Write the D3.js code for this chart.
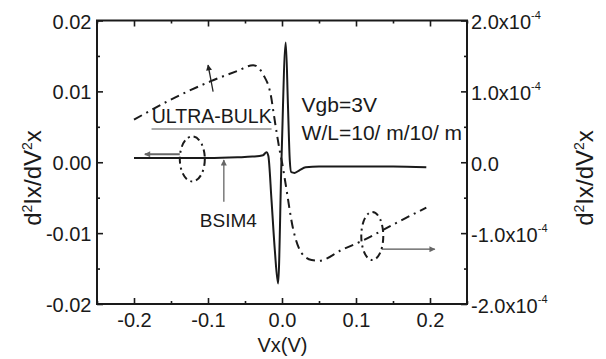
<!DOCTYPE html>
<html>
<head>
<meta charset="utf-8">
<script src="https://cdn.jsdelivr.net/npm/d3@7"></script>
<style>
  html, body { margin: 0; padding: 0; background: #fff; }
  svg { display: block; }
  text { font-family: "Liberation Sans", Arial, Helvetica, sans-serif; fill: #1a1a1a; }
</style>
</head>
<body>
<svg id="chart" width="606" height="359"></svg>
<script>
// ---- data ----
const vxSolid = [-0.2, -0.15, -0.1, -0.06, -0.04, -0.0256, -0.021, -0.0185, -0.0142, -0.0097, -0.0053,
                 -0.0007, 0.0051, 0.008, 0.0105, 0.0125, 0.017, 0.024, 0.032, 0.05, 0.1, 0.15, 0.195];
const bsim4 = [0.0006, 0.0006, 0.0006, 0.0007, 0.0008, 0.001, 0.0014, 0.0009, -0.0053, -0.0124, -0.0171,
               0.0003, 0.0169, 0.0082, 0.0003, -0.0014, -0.0015, -0.0011, -0.0007, -0.0006, -0.0006, -0.0006, -0.0007];

const vxDash = [-0.2, -0.151, -0.097, -0.06, -0.039, -0.025, -0.014, -0.012, -0.003, 0.0, 0.004,
                0.0152, 0.0264, 0.04, 0.05, 0.08, 0.11, 0.15, 0.195];
const ultraBulk = [0.60e-4, 0.88e-4, 1.14e-4, 1.29e-4, 1.37e-4, 1.23e-4, 0.88e-4, 0.74e-4, 0.16e-4, 0.0, -0.25e-4,
                   -0.95e-4, -1.28e-4, -1.38e-4, -1.39e-4, -1.24e-4, -1.10e-4, -0.88e-4, -0.64e-4];

const xTicks = [-0.2, -0.1, 0.0, 0.1, 0.2];
const xTickLabels = ["-0.2", "-0.1", "0.0", "0.1", "0.2"];
const xMinor = [-0.25, -0.15, -0.05, 0.05, 0.15, 0.25];
const yLeftTicks = [-0.02, -0.01, 0.0, 0.01, 0.02];
const yLeftTickLabels = ["-0.02", "-0.01", "0.00", "0.01", "0.02"];
const yLeftMinor = [-0.015, -0.005, 0.005, 0.015];
const yRightTicks = [-2e-4, -1e-4, 0, 1e-4, 2e-4];
const yRightMantissa = ["-2.0x10", "-1.0x10", "0.0", "1.0x10", "2.0x10"];
const yRightExponent = ["-4", "-4", "", "-4", "-4"];
const yRightMinor = [-1.5e-4, -0.5e-4, 0.5e-4, 1.5e-4];

// ---- layout ----
const L = 97, R = 467, T = 20.5, B = 304;
const svg = d3.select("#chart");
const x = d3.scaleLinear().domain([-0.25, 0.25]).range([L, R]);
const yL = d3.scaleLinear().domain([-0.02, 0.02]).range([B, T]);
const yR = d3.scaleLinear().domain([-2e-4, 2e-4]).range([B, T]);
const ink = "#1a1a1a";

// frame
svg.append("rect").attr("x", L).attr("y", T).attr("width", R - L).attr("height", B - T)
  .attr("fill", "none").attr("stroke", ink).attr("stroke-width", 2);

function styleAxis(g) {
  g.select(".domain").remove();
  g.selectAll(".tick line").attr("stroke", ink).attr("stroke-width", 1.6);
  g.selectAll("text").attr("font-size", 20).attr("fill", ink)
    .attr("font-family", "'Liberation Sans', Arial, sans-serif");
}

// bottom
svg.append("g").attr("transform", `translate(0,${B})`)
  .call(d3.axisBottom(x).tickValues(xTicks).tickSize(-6).tickSizeOuter(0).tickPadding(8.5)
    .tickFormat((d, i) => xTickLabels[i]))
  .call(styleAxis);
svg.append("g").attr("transform", `translate(0,${B})`)
  .call(d3.axisBottom(x).tickValues(xMinor).tickSize(-3).tickSizeOuter(0).tickFormat(""))
  .call(styleAxis);
// top
svg.append("g").attr("transform", `translate(0,${T})`)
  .call(d3.axisTop(x).tickValues(xTicks).tickSize(-6).tickSizeOuter(0).tickFormat(""))
  .call(styleAxis);
svg.append("g").attr("transform", `translate(0,${T})`)
  .call(d3.axisTop(x).tickValues(xMinor).tickSize(-3).tickSizeOuter(0).tickFormat(""))
  .call(styleAxis);
// left
svg.append("g").attr("transform", `translate(${L},0)`)
  .call(d3.axisLeft(yL).tickValues(yLeftTicks).tickSize(-6).tickSizeOuter(0).tickPadding(5.5)
    .tickFormat((d, i) => yLeftTickLabels[i]))
  .call(styleAxis)
  .call(g => g.selectAll("text").attr("dy", "0.38em"));
svg.append("g").attr("transform", `translate(${L},0)`)
  .call(d3.axisLeft(yL).tickValues(yLeftMinor).tickSize(-3).tickSizeOuter(0).tickFormat(""))
  .call(styleAxis);
// right
const rAxis = svg.append("g").attr("transform", `translate(${R},0)`)
  .call(d3.axisRight(yR).tickValues(yRightTicks).tickSize(-6).tickSizeOuter(0).tickPadding(4)
    .tickFormat(""))
  .call(styleAxis);
rAxis.selectAll(".tick").each(function (d, i) {
  const t = d3.select(this).select("text");
  t.text(null).attr("x", 4).attr("dy", "0.4em").attr("text-anchor", "start");
  t.append("tspan").text(yRightMantissa[i]);
  if (yRightExponent[i]) {
    t.append("tspan").attr("font-size", 11).attr("dy", -10).text(yRightExponent[i]);
  }
});
svg.append("g").attr("transform", `translate(${R},0)`)
  .call(d3.axisRight(yR).tickValues(yRightMinor).tickSize(-3).tickSizeOuter(0).tickFormat(""))
  .call(styleAxis);

// axis titles
svg.append("text").attr("x", (L + R) / 2 + 0.5).attr("y", 352).attr("text-anchor", "middle")
  .attr("font-size", 20).text("Vx(V)");

function yTitle(tx, ty) {
  const t = svg.append("text").attr("transform", `translate(${tx},${ty}) rotate(-90)`)
    .attr("text-anchor", "middle").attr("font-size", 24);
  t.append("tspan").text("d");
  t.append("tspan").attr("font-size", 14).attr("dy", -9).text("2");
  t.append("tspan").attr("dy", 9).text("Ix/dV");
  t.append("tspan").attr("font-size", 14).attr("dy", -9).text("2");
  t.append("tspan").attr("dy", 9).text("x");
}
yTitle(41, 178);
yTitle(592.5, 178);

// ---- lines ----
const solidLine = d3.line().x(d => x(d[0])).y(d => yL(d[1])).curve(d3.curveMonotoneX);
const dashLine = d3.line().x(d => x(d[0])).y(d => yR(d[1])).curve(d3.curveMonotoneX);

svg.append("path").datum(vxDash.map((v, i) => [v, ultraBulk[i]]))
  .attr("d", dashLine).attr("fill", "none").attr("stroke", ink).attr("stroke-width", 2)
  .attr("stroke-dasharray", "9,5,2,5");

svg.append("path").datum(vxSolid.map((v, i) => [v, bsim4[i]]))
  .attr("d", solidLine).attr("fill", "none").attr("stroke", ink).attr("stroke-width", 2)
  .attr("stroke-linejoin", "miter");

// ---- annotations ----
const defs = svg.append("defs");
function marker(id, color) {
  defs.append("marker").attr("id", id).attr("viewBox", "0 0 10 10").attr("refX", 9).attr("refY", 5)
    .attr("markerWidth", 8).attr("markerHeight", 6).attr("markerUnits", "userSpaceOnUse")
    .attr("orient", "auto")
    .append("path").attr("d", "M0,0 L10,5 L0,10 Z").attr("fill", color);
}
marker("ahGray", "#666");
marker("ahDark", "#222");

function arrow(x1, y1, x2, y2, color, id, w) {
  svg.append("line").attr("x1", x(x1)).attr("y1", yL(y1)).attr("x2", x(x2)).attr("y2", yL(y2))
    .attr("stroke", color).attr("stroke-width", w).attr("marker-end", `url(#${id})`);
}
// left arrow (points to left axis)
arrow(-0.1381, 0.00113, -0.1854, 0.00113, "#666", "ahGray", 2);
// BSIM4 arrow
arrow(-0.0786, -0.00556, -0.0786, 0.00032, "#666", "ahGray", 1.3);
// ULTRA-BULK arrow
arrow(-0.0931, 0.00996, -0.0999, 0.01372, "#222", "ahDark", 1.3);
// right arrow (points to right axis)
arrow(0.1345, -0.01227, 0.2065, -0.01227, "#555", "ahGray", 1.3);

// dashed ellipses
svg.append("ellipse").attr("cx", x(-0.1212)).attr("cy", yL(0.00047)).attr("rx", 12.5).attr("ry", 22.5)
  .attr("fill", "none").attr("stroke", ink).attr("stroke-width", 2).attr("stroke-dasharray", "7,4,2,4");
svg.append("ellipse").attr("cx", x(0.122)).attr("cy", yL(-0.0104)).attr("rx", 11).attr("ry", 24)
  .attr("fill", "none").attr("stroke", ink).attr("stroke-width", 2).attr("stroke-dasharray", "7,4,2,4");

// labels
svg.append("text").attr("x", x(-0.176)).attr("y", yL(0.00547)).attr("font-size", 19.5).text("ULTRA-BULK");
svg.append("line").attr("x1", x(-0.1763)).attr("x2", x(-0.0141)).attr("y1", yL(0.00469)).attr("y2", yL(0.00469))
  .attr("stroke", "#aaa").attr("stroke-width", 2);
svg.append("text").attr("x", x(0.0265)).attr("y", yL(0.00716)).attr("font-size", 21).text("Vgb=3V");
svg.append("text").attr("x", x(0.0265)).attr("y", yL(0.00315)).attr("font-size", 21).text("W/L=10/ m/10/ m");
svg.append("text").attr("x", x(-0.111)).attr("y", yL(-0.0092)).attr("font-size", 19).text("BSIM4");
</script>
</body>
</html>
